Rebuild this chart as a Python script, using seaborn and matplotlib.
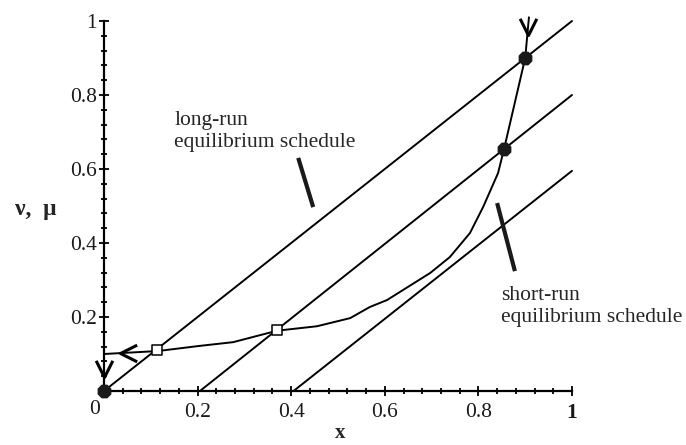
import matplotlib
matplotlib.use("Agg")
import matplotlib.pyplot as plt
import seaborn as sns
import pandas as pd
from matplotlib.ticker import MultipleLocator, FixedLocator
from matplotlib.path import Path
from matplotlib.markers import MarkerStyle

# ---- data ----
long_x = [0.0, 1.0]
long_y = [0.0, 1.0]
mid_x = [0.205, 1.0]
mid_y = [0.0, 0.80]
low_x = [0.405, 1.0]
low_y = [0.0, 0.595]
short_x = [0.0, 0.115, 0.205, 0.276, 0.370, 0.455, 0.526, 0.568, 0.605, 0.639,
           0.697, 0.739, 0.782, 0.810, 0.842, 0.855, 0.900, 0.908]
short_y = [0.100, 0.108, 0.122, 0.132, 0.163, 0.175, 0.197, 0.227, 0.246, 0.273,
           0.319, 0.362, 0.427, 0.497, 0.589, 0.655, 0.900, 1.010]
filled_x = [0.0, 0.855, 0.899]
filled_y = [0.0, 0.655, 0.899]
open_x = [0.113, 0.370]
open_y = [0.110, 0.165]
down_arrow_x = [0.0, 0.906]
down_arrow_y = [0.038, 0.962]
left_arrow_x = [0.034]
left_arrow_y = [0.103]
xtick_vals = [0.2, 0.4, 0.6, 0.8, 1.0]
xtick_labels = ["0.2", "0.4", "0.6", "0.8", "1"]
ytick_vals = [0.2, 0.4, 0.6, 0.8, 1.0]
ytick_labels = ["0.2", "0.4", "0.6", "0.8", "1"]

sns.set_theme(style="white")
plt.rcParams["font.family"] = ["Liberation Serif", "DejaVu Serif"]

fig = plt.figure(figsize=(6.86, 4.45), dpi=100)
ax = fig.add_axes([104 / 686, 54 / 445, 468 / 686, 370 / 445])

lw = 1.4
for xs, ys in [(long_x, long_y), (mid_x, mid_y), (low_x, low_y), (short_x, short_y)]:
    df = pd.DataFrame({"x": xs, "y": ys})
    sns.lineplot(data=df, x="x", y="y", ax=ax, color="black", lw=lw,
                 sort=False, estimator=None, clip_on=False)

sns.scatterplot(x=filled_x, y=filled_y, ax=ax, marker="8", s=115, color="#1a1a1a",
                edgecolor="#1a1a1a", linewidth=0, clip_on=False, zorder=5)
sns.scatterplot(x=open_x, y=open_y, ax=ax, marker="s", s=45, facecolor="white",
                edgecolor="black", linewidth=1.1, clip_on=False, zorder=5)

# open chevron arrowheads (tip at the marker origin)
codes = [Path.MOVETO, Path.LINETO, Path.LINETO]
down_v = MarkerStyle(Path([(-0.5, 1.0), (0.0, 0.0), (0.5, 1.0)], codes), fillstyle="none")
left_v = MarkerStyle(Path([(1.0, -0.5), (0.0, 0.0), (1.0, 0.5)], codes), fillstyle="none")
ax.plot(down_arrow_x, down_arrow_y, ls="none", marker=down_v, ms=24, mew=2.2,
        mec="black", clip_on=False, zorder=6)
ax.plot(left_arrow_x, left_arrow_y, ls="none", marker=left_v, ms=24, mew=2.2,
        mec="black", clip_on=False, zorder=6)

# pointer strokes
ax.plot([0.415, 0.447], [0.630, 0.497], color="#1a1a1a", lw=3.0, solid_capstyle="butt")
ax.plot([0.840, 0.878], [0.508, 0.324], color="#1a1a1a", lw=3.0, solid_capstyle="butt",
        clip_on=False)

fs = 15.5
ax.text(0.150, 0.719, "long-run", fontsize=fs, va="baseline", ha="left")
ax.text(0.150, 0.659, "equilibrium schedule", fontsize=fs, va="baseline", ha="left")
ax.text(0.848, 0.246, "short-run", fontsize=fs, va="baseline", ha="left", clip_on=False)
ax.text(0.848, 0.186, "equilibrium schedule", fontsize=fs, va="baseline", ha="left",
        clip_on=False)

ax.set_xlim(0, 1)
ax.set_ylim(0, 1)
ax.xaxis.set_major_locator(FixedLocator(xtick_vals))
ax.yaxis.set_major_locator(FixedLocator(ytick_vals))
ax.xaxis.set_minor_locator(MultipleLocator(0.04))
ax.yaxis.set_minor_locator(MultipleLocator(0.04))
ax.set_xticklabels(xtick_labels)
ax.set_yticklabels(ytick_labels)
ax.get_xticklabels()[-1].set_fontweight("bold")
ax.tick_params(axis="both", which="both", bottom=True, left=True, top=False, right=False)
ax.tick_params(axis="both", which="major", direction="inout", length=7.5, width=1.3,
               labelsize=15.5, color="black", labelcolor="#1a1a1a")
ax.tick_params(axis="both", which="minor", direction="inout", length=4.5, width=1.3,
               color="black")
ax.tick_params(axis="x", which="major", pad=5)
ax.tick_params(axis="y", which="major", pad=1.5)
ax.text(-0.021, -0.049, "0", fontsize=15.5, ha="center", va="center", color="#1a1a1a")

for side in ["top", "right"]:
    ax.spines[side].set_visible(False)
for side in ["left", "bottom"]:
    ax.spines[side].set_color("black")
    ax.spines[side].set_linewidth(1.6)

ax.set_xlabel("x", fontsize=15, fontweight="bold")
ax.set_ylabel("ν,  μ", fontsize=17, fontweight="bold", rotation=0)
ax.yaxis.set_label_coords(-0.146, 0.49)
ax.xaxis.set_label_coords(0.504, -0.113)
ax.xaxis.label.set_verticalalignment("center")
ax.yaxis.label.set_verticalalignment("center")
ax.grid(False)
ax.set_facecolor("white")
fig.patch.set_facecolor("white")

fig.savefig("out.png", dpi=100)
